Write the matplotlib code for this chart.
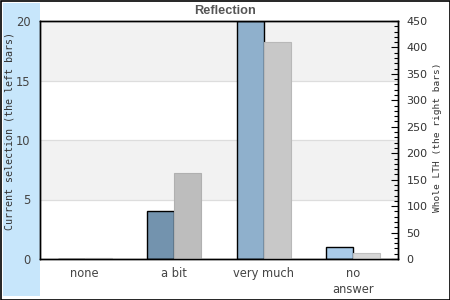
import matplotlib
matplotlib.use("Agg")
import matplotlib.pyplot as plt
from matplotlib.patches import Rectangle
from matplotlib.ticker import MultipleLocator
import numpy as np

categories = ["none", "a bit", "very much", "no\nanswer"]
current_selection = [0, 4, 20, 1]
whole_lth = [2, 162, 410, 11]
left_colors = ["#7393ae", "#7393ae", "#8fb0cc", "#a9cbe9"]
right_colors = ["#c4c4c4", "#bdbdbd", "#c8c8c8", "#d6d6d6"]
right_edges = ["#b0b0b0", "#b0b0b0", "#b8b8b8", "#c0c0c0"]

fig = plt.figure(figsize=(4.5, 3), dpi=100)
fig.patch.set_facecolor("white")
# outer border and left blue panel
fig.add_artist(Rectangle((0.5/450, 0.5/300), 449/450, 299/300, transform=fig.transFigure,
                         fill=False, edgecolor="black", linewidth=1.2))
fig.add_artist(Rectangle((3/450, 4/300), 37/450, 293/300, transform=fig.transFigure,
                         facecolor="#c7e6fb", edgecolor="none", zorder=0))

ax = fig.add_axes([40/450, 41/300, 358/450, 238/300])
ax.set_zorder(1)
ax.patch.set_facecolor("white")
ax.set_xlim(-0.5, 3.5)
ax.set_ylim(0, 20)
ax.axhspan(5, 10, color="#f2f2f2", zorder=0, linewidth=0)
ax.axhspan(15, 20, color="#f2f2f2", zorder=0, linewidth=0)
for y in (5, 10, 15):
    ax.axhline(y, color="#dddddd", linewidth=0.9, zorder=0.5)

x = np.arange(len(categories))
w = 0.30
ax.bar(x - w, current_selection, width=w, align="edge", color=left_colors,
       edgecolor="black", linewidth=1.0, zorder=2, clip_on=True)

ax2 = ax.twinx()
ax2.set_ylim(0, 450)
ax2.bar(x, whole_lth, width=w, align="edge", color=right_colors,
        edgecolor=right_edges, linewidth=0.8, zorder=1)
ax2.set_xlim(-0.5, 3.5)

for a in (ax, ax2):
    for s in a.spines.values():
        s.set_color("black")
        s.set_linewidth(1.0)

ax.set_xticks(x)
ax.set_xticklabels(categories, fontsize=8.3, color="#444444", linespacing=1.25)
ax.tick_params(axis="x", length=0, pad=6)
ax.set_yticks([0, 5, 10, 15, 20])
ax.tick_params(axis="y", length=0, labelsize=8.3, labelcolor="#444444", pad=7)

ax2.set_yticks(np.arange(0, 451, 50))
ax2.yaxis.set_minor_locator(MultipleLocator(10))
ax2.tick_params(axis="y", which="major", direction="in", length=5, width=0.8,
                labelsize=8, labelcolor="#333333", pad=6)
ax2.tick_params(axis="y", which="minor", direction="in", length=3, width=0.8)

mono = "DejaVu Sans Mono"
fig.text(10/450, 1 - 131/300, "Current selection (the left bars)", rotation=90,
         ha="center", va="center", family=mono, fontsize=7.2, color="#333333")
fig.text(437/450, 1 - 137/300, "Whole LTH (the right bars)", rotation=90,
         ha="center", va="center", family=mono, fontsize=6.8, color="#333333")
fig.text(225/450, 1 - 11.5/300, "Reflection", ha="center", va="center",
         family="Liberation Sans", fontweight="bold", fontsize=9.2, color="#555555")

fig.savefig("out.png", dpi=100)
